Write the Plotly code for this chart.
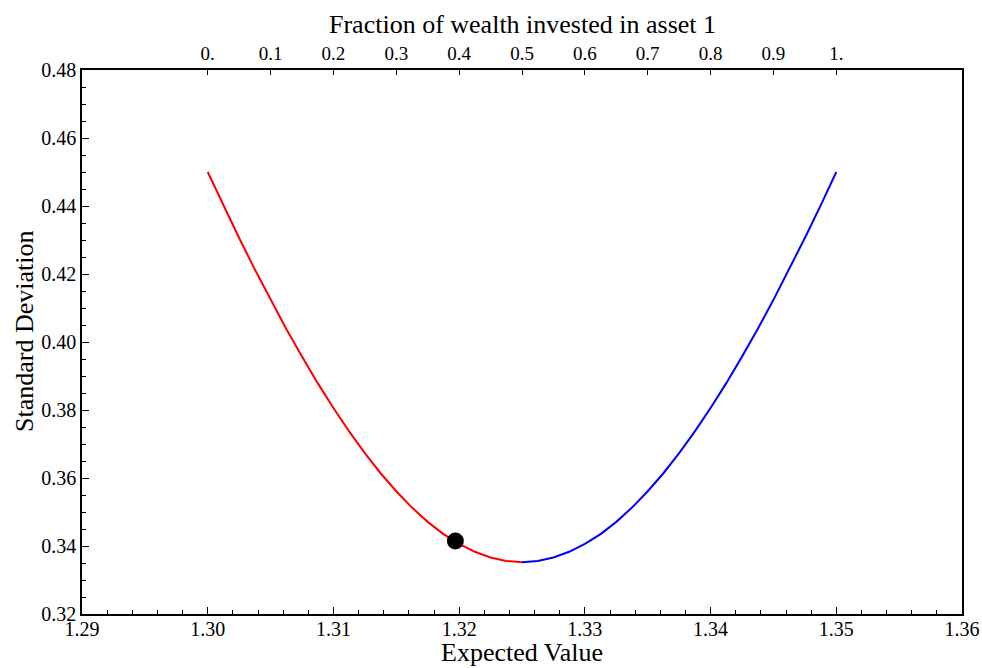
import plotly.graph_objects as go

# Portfolio frontier: share of wealth in asset 1, expected value, standard deviation
fraction = [0.000, 0.025, 0.050, 0.075, 0.100, 0.125, 0.150, 0.175, 0.200, 0.225,
            0.250, 0.275, 0.300, 0.325, 0.350, 0.375, 0.400, 0.425, 0.450, 0.475,
            0.500, 0.525, 0.550, 0.575, 0.600, 0.625, 0.650, 0.675, 0.700, 0.725,
            0.750, 0.775, 0.800, 0.825, 0.850, 0.875, 0.900, 0.925, 0.950, 0.975, 1.000]
expected_value = [1.30000, 1.30125, 1.30250, 1.30375, 1.30500, 1.30625, 1.30750,
                  1.30875, 1.31000, 1.31125, 1.31250, 1.31375, 1.31500, 1.31625,
                  1.31750, 1.31875, 1.32000, 1.32125, 1.32250, 1.32375, 1.32500,
                  1.32625, 1.32750, 1.32875, 1.33000, 1.33125, 1.33250, 1.33375,
                  1.33500, 1.33625, 1.33750, 1.33875, 1.34000, 1.34125, 1.34250,
                  1.34375, 1.34500, 1.34625, 1.34750, 1.34875, 1.35000]
std_dev = [0.4500, 0.4401, 0.4306, 0.4213, 0.4124, 0.4038, 0.3957, 0.3879,
           0.3806, 0.3737, 0.3673, 0.3614, 0.3561, 0.3513, 0.3471, 0.3435,
           0.3406, 0.3383, 0.3366, 0.3356, 0.3352, 0.3356, 0.3366, 0.3383,
           0.3406, 0.3435, 0.3471, 0.3513, 0.3561, 0.3614, 0.3673, 0.3737,
           0.3806, 0.3879, 0.3957, 0.4038, 0.4124, 0.4213, 0.4306, 0.4401, 0.4500]

# Highlighted portfolio
point_ev = [1.3197]
point_sd = [0.3415]

top_ticks = [0.0, 0.1, 0.2, 0.3, 0.4, 0.5, 0.6, 0.7, 0.8, 0.9, 1.0]
top_labels = ["0.", "0.1", "0.2", "0.3", "0.4", "0.5", "0.6", "0.7", "0.8", "0.9", "1."]
x_ticks = [1.29, 1.30, 1.31, 1.32, 1.33, 1.34, 1.35, 1.36]
y_ticks = [0.32, 0.34, 0.36, 0.38, 0.40, 0.42, 0.44, 0.46, 0.48]

mid = fraction.index(0.500)
FONT = "Liberation Serif, Times New Roman, serif"
TITLE_SIZE = 26

fig = go.Figure()
fig.add_trace(go.Scatter(x=expected_value[:mid + 1], y=std_dev[:mid + 1], mode="lines",
                         line=dict(color="#ff0000", width=2),
                         showlegend=False, hoverinfo="skip"))
fig.add_trace(go.Scatter(x=expected_value[mid:], y=std_dev[mid:], mode="lines",
                         line=dict(color="#0000ff", width=2),
                         showlegend=False, hoverinfo="skip"))
fig.add_trace(go.Scatter(x=point_ev, y=point_sd, mode="markers",
                         marker=dict(color="black", size=17), showlegend=False))
# invisible trace to activate the top axis
fig.add_trace(go.Scatter(x=[fraction[0], fraction[-1]], y=[std_dev[0], std_dev[-1]],
                         xaxis="x2", mode="markers", marker=dict(opacity=0),
                         showlegend=False, hoverinfo="skip"))

fig.update_layout(
    width=982, height=668,
    margin=dict(l=82, r=20, t=70, b=54),
    paper_bgcolor="white", plot_bgcolor="white",
    font=dict(family=FONT, color="black", size=18),
    xaxis=dict(
        range=[1.29, 1.36], tickvals=x_ticks, ticktext=[f"{v:.2f}" for v in x_ticks],
        ticks="inside", ticklen=7, tickwidth=1, tickcolor="black",
        minor=dict(dtick=0.002, ticks="inside", ticklen=4, tickcolor="black", showgrid=False),
        showline=True, linecolor="black", linewidth=1.5, mirror=True,
        showgrid=False, zeroline=False, automargin=False,
        tickfont=dict(size=20), ticklabelstandoff=-4,
    ),
    yaxis=dict(
        range=[0.32, 0.48], tickvals=y_ticks, ticktext=[f"{v:.2f}" for v in y_ticks],
        ticks="inside", ticklen=7, tickwidth=1, tickcolor="black",
        minor=dict(dtick=0.005, ticks="inside", ticklen=4, tickcolor="black", showgrid=False),
        showline=True, linecolor="black", linewidth=1.5, mirror=True,
        showgrid=False, zeroline=False, automargin=False,
        tickfont=dict(size=20),
    ),
    xaxis2=dict(
        overlaying="x", side="top", range=[-0.2, 1.2],
        tickvals=top_ticks, ticktext=top_labels,
        ticks="inside", ticklen=5, tickcolor="black",
        showgrid=False, zeroline=False, showline=False, automargin=False,
        tickfont=dict(size=19), ticklabelstandoff=5,
    ),
    annotations=[
        dict(text="Expected Value", xref="paper", yref="paper", x=0.5, y=-54 / 544,
             xanchor="center", yanchor="bottom", showarrow=False, borderpad=0,
             font=dict(size=TITLE_SIZE)),
        dict(text="Fraction of wealth invested in asset 1", xref="paper", yref="paper",
             x=0.5, y=1.0 + 46 / 544, xanchor="center", yanchor="middle", showarrow=False,
             font=dict(size=TITLE_SIZE)),
        dict(text="Standard Deviation", xref="paper", yref="paper", x=-58 / 880,
             y=(614 - 332) / 544, xanchor="center", yanchor="middle", textangle=-90,
             showarrow=False, font=dict(size=TITLE_SIZE)),
    ],
)

fig.write_html("out.html")
